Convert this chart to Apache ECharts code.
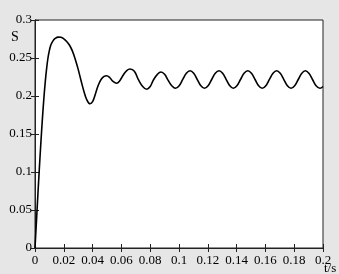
<!DOCTYPE html>
<html>
<head>
<meta charset="utf-8">
<script src="https://cdn.jsdelivr.net/npm/echarts@6/dist/echarts.min.js"></script>
<style>
html,body{margin:0;padding:0;background:#e6e6e6;}
#c{width:339px;height:274px;}
</style>
</head>
<body>
<div id="c"></div>
<script>
var xTicks = [0, 0.02, 0.04, 0.06, 0.08, 0.1, 0.12, 0.14, 0.16, 0.18, 0.2];
var yTicks = [0, 0.05, 0.1, 0.15, 0.2, 0.25, 0.3];
var tValues = [
  0, 0.001, 0.002, 0.003, 0.004, 0.005, 0.006, 0.007, 0.008, 0.009,
  0.010, 0.011, 0.0125, 0.014, 0.0162, 0.018, 0.020, 0.022, 0.024, 0.026,
  0.028, 0.030, 0.032, 0.034, 0.036, 0.0382, 0.040, 0.042, 0.044, 0.046,
  0.048, 0.0498, 0.052, 0.054, 0.0567, 0.059, 0.0613, 0.0637, 0.066, 0.069,
  0.0718, 0.0748, 0.0776, 0.080, 0.0822, 0.085, 0.0875, 0.090, 0.0925, 0.095,
  0.0976, 0.1001, 0.1026, 0.1051, 0.1077, 0.1102, 0.1127, 0.1152, 0.1177, 0.1202,
  0.1227, 0.1252, 0.1278, 0.1303, 0.1328, 0.1353, 0.1377, 0.1402, 0.1427, 0.1452,
  0.1478, 0.1503, 0.1528, 0.1553, 0.1578, 0.1603, 0.1628, 0.1653, 0.1678, 0.1703,
  0.1728, 0.1753, 0.1778, 0.1803, 0.1828, 0.1853, 0.1877, 0.1902, 0.1927, 0.1952,
  0.1979, 0.2000
];
var sValues = [
  0, 0.035, 0.070, 0.104, 0.136, 0.166, 0.193, 0.216, 0.235, 0.250,
  0.260, 0.267, 0.2725, 0.2757, 0.2775, 0.2772, 0.2752, 0.2718, 0.2668, 0.259,
  0.248, 0.235, 0.220, 0.206, 0.195, 0.1898, 0.1925, 0.203, 0.2145, 0.222,
  0.2258, 0.2267, 0.224, 0.2195, 0.2168, 0.2205, 0.2276, 0.2335, 0.2355, 0.2325,
  0.2215, 0.2125, 0.2088, 0.2125, 0.221, 0.2285, 0.2315, 0.2285, 0.2205, 0.2135,
  0.2102, 0.2136, 0.2218, 0.2300, 0.2333, 0.2299, 0.2216, 0.2134, 0.2101, 0.2135,
  0.2217, 0.2299, 0.2332, 0.2298, 0.2216, 0.2135, 0.2101, 0.2135, 0.2217, 0.2300,
  0.2333, 0.2299, 0.2217, 0.2135, 0.2102, 0.2136, 0.2218, 0.2299, 0.2332, 0.2298,
  0.2216, 0.2134, 0.2101, 0.2135, 0.2217, 0.2300, 0.2333, 0.2299, 0.2217, 0.2135,
  0.2102, 0.2125
];
var yName = 'S';
var xName = 't/s';

var data = tValues.map(function (t, i) { return [t, sValues[i]]; });
var font = '"Liberation Serif", "DejaVu Serif", serif';
var axisLineStyle = { color: '#222', width: 1 };

function fmt(v) { return String(+v.toFixed(4)); }

var chart = echarts.init(document.getElementById('c'), null, { renderer: 'canvas' });
chart.setOption({
  backgroundColor: '#e6e6e6',
  animation: false,
  grid: { left: 35, top: 20, right: 16, bottom: 26, show: true, backgroundColor: '#ffffff', borderColor: '#222', borderWidth: 1 },
  xAxis: [{
    type: 'value', min: xTicks[0], max: xTicks[xTicks.length - 1], interval: 0.02,
    axisLine: { show: true, lineStyle: axisLineStyle },
    axisTick: { show: true, inside: true, length: 4, lineStyle: axisLineStyle },
    axisLabel: { color: '#000', fontFamily: font, fontSize: 13, margin: 6, formatter: fmt },
    splitLine: { show: false }
  }, {
    type: 'value', position: 'top', min: xTicks[0], max: xTicks[xTicks.length - 1], interval: 0.02,
    axisLine: { show: true, lineStyle: axisLineStyle },
    axisTick: { show: true, inside: true, length: 4, lineStyle: axisLineStyle },
    axisLabel: { show: false },
    splitLine: { show: false }
  }],
  yAxis: [{
    type: 'value', min: yTicks[0], max: yTicks[yTicks.length - 1], interval: 0.05,
    axisLine: { show: true, lineStyle: axisLineStyle },
    axisTick: { show: true, inside: true, length: 4, lineStyle: axisLineStyle },
    axisLabel: { color: '#000', fontFamily: font, fontSize: 13, margin: 3, formatter: fmt },
    splitLine: { show: false }
  }, {
    type: 'value', position: 'right', min: yTicks[0], max: yTicks[yTicks.length - 1], interval: 0.05,
    axisLine: { show: true, lineStyle: axisLineStyle },
    axisTick: { show: true, inside: true, length: 4, lineStyle: axisLineStyle },
    axisLabel: { show: false },
    splitLine: { show: false }
  }],
  graphic: [
    { type: 'text', left: 11, top: 30, style: { text: yName, font: '14px ' + font, fill: '#000' } },
    { type: 'text', left: 324, top: 262, style: { text: xName, font: '13px ' + font, fill: '#000' } }
  ],
  series: [{
    type: 'line', data: data, xAxisIndex: 0, yAxisIndex: 0,
    showSymbol: false, smooth: 0.4,
    lineStyle: { color: '#000', width: 1.6 }
  }]
});
</script>
</body>
</html>
